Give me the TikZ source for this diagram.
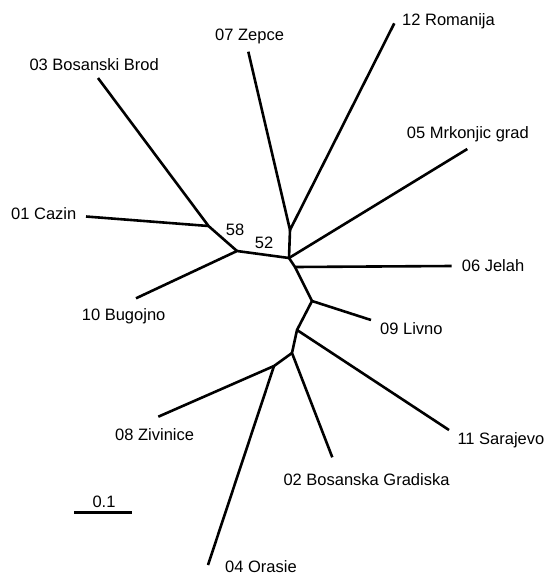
\documentclass[tikz,border=0pt]{standalone}
\usepackage{fontspec}
\setmainfont{Liberation Sans}
\begin{document}
\begin{tikzpicture}[x=1pt,y=-1pt,
  branch/.style={line width=2.6pt, line join=round},
  lab/.style={anchor=base west, inner sep=0pt, font=\fontsize{16.5}{18}\selectfont},
  boot/.style={anchor=base west, inner sep=0pt, font=\fontsize{16.5}{18}\selectfont}]
\useasboundingbox (0,0) rectangle (544,576);
% internal nodes
\coordinate (A) at (208.5,226);
\coordinate (B) at (237,251);
\coordinate (C) at (289,258);
\coordinate (D) at (290,230);
\coordinate (E) at (295,267);
\coordinate (F) at (312,301);
\coordinate (G) at (297,330);
\coordinate (H) at (292,353);
\coordinate (I) at (274,366);
% leaves
\coordinate (l03) at (98,78);
\coordinate (l01) at (86,216.5);
\coordinate (l07) at (248.3,51.7);
\coordinate (l12) at (394.3,23.3);
\coordinate (l05) at (467.3,149);
\coordinate (l06) at (451.7,266);
\coordinate (l10) at (136,298.3);
\coordinate (l09) at (371,320);
\coordinate (l11) at (449,430);
\coordinate (l02) at (332.3,457.3);
\coordinate (l08) at (158.3,416.7);
\coordinate (l04) at (208,565);
% branches
\draw[branch] (l03) -- (A) -- (B);
\draw[branch] (l01) -- (A);
\draw[branch] (l10) -- (B) -- (C);
\draw[branch] (C) -- (D);
\draw[branch] (l07) -- (D) -- (l12);
\draw[branch] (C) -- (l05);
\draw[branch] (C) -- (E) -- (l06);
\draw[branch] (E) -- (F) -- (l09);
\draw[branch] (F) -- (G) -- (l11);
\draw[branch] (G) -- (H) -- (l02);
\draw[branch] (H) -- (I) -- (l08);
\draw[branch] (I) -- (l04);
% labels
\node[lab] (t03) at (29.3,70.7) {03 Bosanski Brod};
\node[lab] (t07) at (215,40.7) {07 Zepce};
\node[lab] (t12) at (402,25.7) {12 Romanija};
\node[lab] (t05) at (406.7,138) {05 Mrkonjic grad};
\node[lab] (t01) at (11,219) {01 Cazin};
\node[lab] (t06) at (461.7,271.7) {06 Jelah};
\node[lab] (t10) at (81.7,320.7) {10 Bugojno};
\node[lab] (t09) at (380,334) {09 Livno};
\node[lab] (t08) at (115,440.7) {08 Zivinice};
\node[lab] (t11) at (457.3,444) {11 Sarajevo};
\node[lab] (t02) at (283.3,485) {02 Bosanska Gradiska};
\node[lab] (t04) at (225,572) {04 Orasie};
% bootstrap values
\node[boot] (b58) at (225.7,235.7) {58};
\node[boot] (b52) at (254.7,248.3) {52};
% scale bar
\coordinate (s1) at (74,512.3);
\coordinate (s2) at (131.7,512.3);
\draw[line width=2.7pt] (s1) -- (s2);
\node[boot] (sc) at (92.3,507.3) {0.1};
\end{tikzpicture}
\end{document}
